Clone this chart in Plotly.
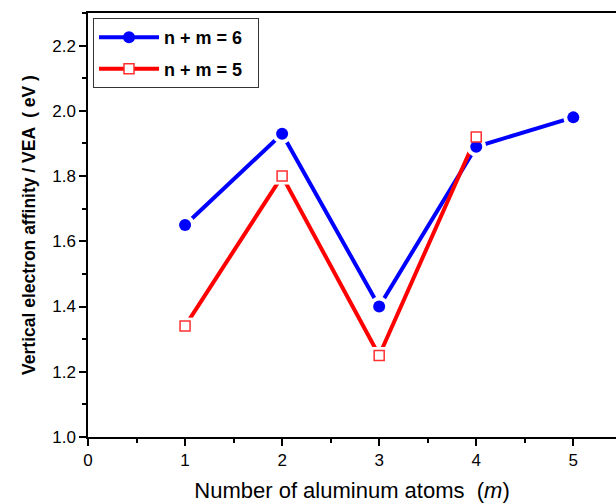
import plotly.graph_objects as go

# Data
m_values = [1, 2, 3, 4, 5]
vea_nm6 = [1.65, 1.93, 1.40, 1.89, 1.98]
m_values_5 = [1, 2, 3, 4]
vea_nm5 = [1.34, 1.80, 1.25, 1.92]
name6 = "n + m = 6"
name5 = "n + m = 5"
x_ticks = [0, 1, 2, 3, 4, 5]
y_ticks = [1.0, 1.2, 1.4, 1.6, 1.8, 2.0, 2.2]

BLUE = "#0000FF"
RED = "#FF0000"
FONT = "Liberation Sans, Arial, sans-serif"

fig = go.Figure()

# lines
fig.add_trace(go.Scatter(x=m_values, y=vea_nm6, mode="lines",
                         line=dict(color=BLUE, width=4), showlegend=False, hoverinfo="skip"))
fig.add_trace(go.Scatter(x=m_values_5, y=vea_nm5, mode="lines",
                         line=dict(color=RED, width=4), showlegend=False, hoverinfo="skip"))
# white gaps around markers
fig.add_trace(go.Scatter(x=m_values, y=vea_nm6, mode="markers",
                         marker=dict(symbol="circle", size=20, color="white"),
                         showlegend=False, hoverinfo="skip"))
fig.add_trace(go.Scatter(x=m_values_5, y=vea_nm5, mode="markers",
                         marker=dict(symbol="square", size=17, color="white"),
                         showlegend=False, hoverinfo="skip"))
# markers
fig.add_trace(go.Scatter(x=m_values, y=vea_nm6, mode="markers",
                         marker=dict(symbol="circle", size=12, color=BLUE, line=dict(width=0)),
                         showlegend=False))
fig.add_trace(go.Scatter(x=m_values_5, y=vea_nm5, mode="markers",
                         marker=dict(symbol="square", size=10, color="white",
                                     line=dict(color="#FF3030", width=1.5)),
                         showlegend=False))
# legend entries
fig.add_trace(go.Scatter(x=[None], y=[None], mode="lines+markers", name=name6,
                         legendgroup="a",
                         line=dict(color=BLUE, width=4),
                         marker=dict(symbol="circle", size=12, color=BLUE)))
fig.add_trace(go.Scatter(x=[None], y=[None], mode="lines+markers", name=name5 + "  ",
                         legendgroup="b",
                         line=dict(color=RED, width=4),
                         marker=dict(symbol="square", size=10, color="white",
                                     line=dict(color="#FF3030", width=1.5))))

fig.update_layout(
    width=616, height=504,
    margin=dict(l=88, r=0, t=13, b=67),
    plot_bgcolor="white", paper_bgcolor="white",
    font=dict(family=FONT, color="black", size=17),
    legend=dict(x=0.0095, y=0.988, xanchor="left", yanchor="top",
                bordercolor="#333", borderwidth=1, bgcolor="white",
                font=dict(size=18, family=FONT, weight="bold"),
                tracegroupgap=5, itemwidth=60),
)

fig.update_xaxes(
    range=[0, 5.44], tickvals=x_ticks, ticktext=[str(v) for v in x_ticks],
    tickfont=dict(size=17),
    showgrid=False, zeroline=False,
    showline=True, linecolor="black", linewidth=1.5, mirror=True,
    ticks="outside", ticklen=7, tickwidth=1.5, tickcolor="black",
    minor=dict(dtick=0.5, ticks="outside", ticklen=4, tickwidth=1.5, tickcolor="black"),
    title=dict(text="Number of aluminum atoms  (<i>m</i>)", font=dict(size=22), standoff=13),
)
fig.update_yaxes(
    range=[1.0, 2.3], tickvals=y_ticks, ticktext=[f"{v:.1f}" for v in y_ticks],
    tickfont=dict(size=17),
    showgrid=False, zeroline=False,
    showline=True, linecolor="black", linewidth=1.5, mirror=False,
    ticks="outside", ticklen=7, tickwidth=1.5, tickcolor="black",
    minor=dict(dtick=0.1, ticks="outside", ticklen=4, tickwidth=1.5, tickcolor="black"),
    title=dict(text="<b>Vertical electron affinity / VEA  ( eV )</b>", font=dict(size=17.5), standoff=12),
)

fig.write_html("out.html")
